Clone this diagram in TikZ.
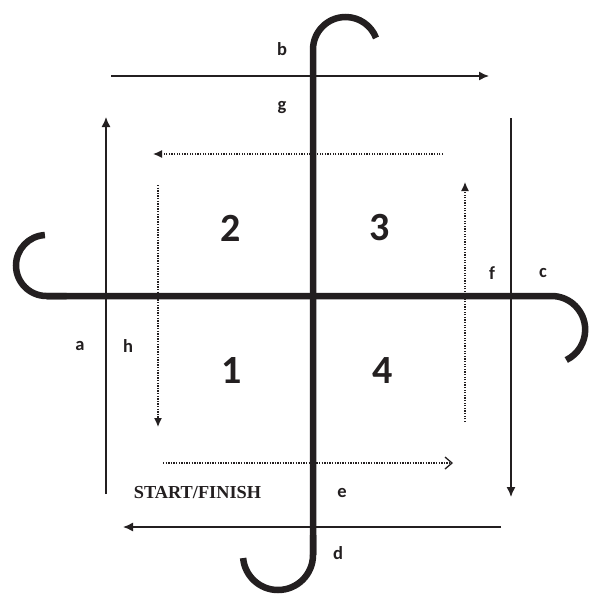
\documentclass[tikz,border=0pt]{standalone}
\usepackage{fontspec}
\setsansfont{Carlito}
\newfontfamily\startfont{Liberation Serif}
\usetikzlibrary{arrows.meta}
\definecolor{ink}{RGB}{35,31,32}
\tikzset{
  hookline/.style={draw=ink,line width=6.5pt},
  track/.style={draw=ink,line width=1.4pt,-{Latex[length=10pt,width=9pt]}},
  trail/.style={draw=ink,line width=1.3pt,dash pattern=on 1.3pt off 1.3pt,-{Latex[length=9pt,width=8pt]}},
  trailopen/.style={draw=ink,line width=1.3pt,dash pattern=on 1.3pt off 1.3pt,-{Straight Barb[length=7pt,width=12pt,line width=1.3pt]}},
  lbl/.style={inner sep=0pt,text=ink,font=\sffamily\bfseries\fontsize{18.5}{22}\selectfont},
  quad/.style={inner sep=0pt,text=ink,font=\sffamily\bfseries\fontsize{40}{48}\selectfont},
}
\begin{document}
\begin{tikzpicture}[x=1pt,y=-1pt]
\path[use as bounding box,fill=white] (0,0) rectangle (590,595);
% the two hooked bars
\coordinate (west) at (46.5,296);
\coordinate (east) at (551.5,296);
\coordinate (south) at (313,555);
\coordinate (north) at (313,49.6);
\draw[hookline] (west) -- (east) arc[start angle=270,end angle=424,radius=33.7];
\draw[hookline] ([xshift=20pt]west) -- (west) arc[start angle=90,end angle=267,radius=30.5];
\draw[hookline] (south) -- (north) arc[start angle=180,end angle=339,radius=32.6];
\draw[hookline] ([yshift=20pt]south) -- (south) arc[start angle=0,end angle=175,radius=35];
% outer ring of arrows
\coordinate (a0) at (106,494); \coordinate (a1) at (106,117);
\coordinate (b0) at (111,76);  \coordinate (b1) at (489,76);
\coordinate (c0) at (511,118); \coordinate (c1) at (511,497);
\coordinate (d0) at (501,527); \coordinate (d1) at (123,527);
\draw[track] (a0) -- (a1);
\draw[track] (b0) -- (b1);
\draw[track] (c0) -- (c1);
\draw[track] (d0) -- (d1);
% inner ring of arrows
\coordinate (g0) at (443,154); \coordinate (g1) at (153,154);
\coordinate (h0) at (158,185); \coordinate (h1) at (158,427);
\coordinate (e0) at (163,463); \coordinate (e1) at (453,463);
\coordinate (f0) at (465,422); \coordinate (f1) at (465,182);
\draw[trail] (g0) -- (g1);
\draw[trail] (h0) -- (h1);
\draw[trailopen] (e0) -- (e1);
\draw[trail] (f0) -- (f1);
% letters
\node[lbl] (la) at (80,346) {a};
\node[lbl] (lb) at (282,49) {b};
\node[lbl] (lc) at (543,273) {c};
\node[lbl] (ld) at (338,553) {d};
\node[lbl] (le) at (342,493) {e};
\node[lbl] (lf) at (492,273) {f};
\node[lbl] (lg) at (282,108) {g};
\node[lbl] (lh) at (128,346) {h};
% quadrants
\node[quad] (q2) at (231,228) {2};
\node[quad] (q3) at (380,228) {3};
\node[quad] (q1) at (232,371) {1};
\node[quad] (q4) at (383,371) {4};
\node[inner sep=0pt,text=ink,font=\startfont\bfseries\fontsize{18.3}{22}\selectfont] (start) at (197.5,493) {START/FINISH};
\end{tikzpicture}
\end{document}
